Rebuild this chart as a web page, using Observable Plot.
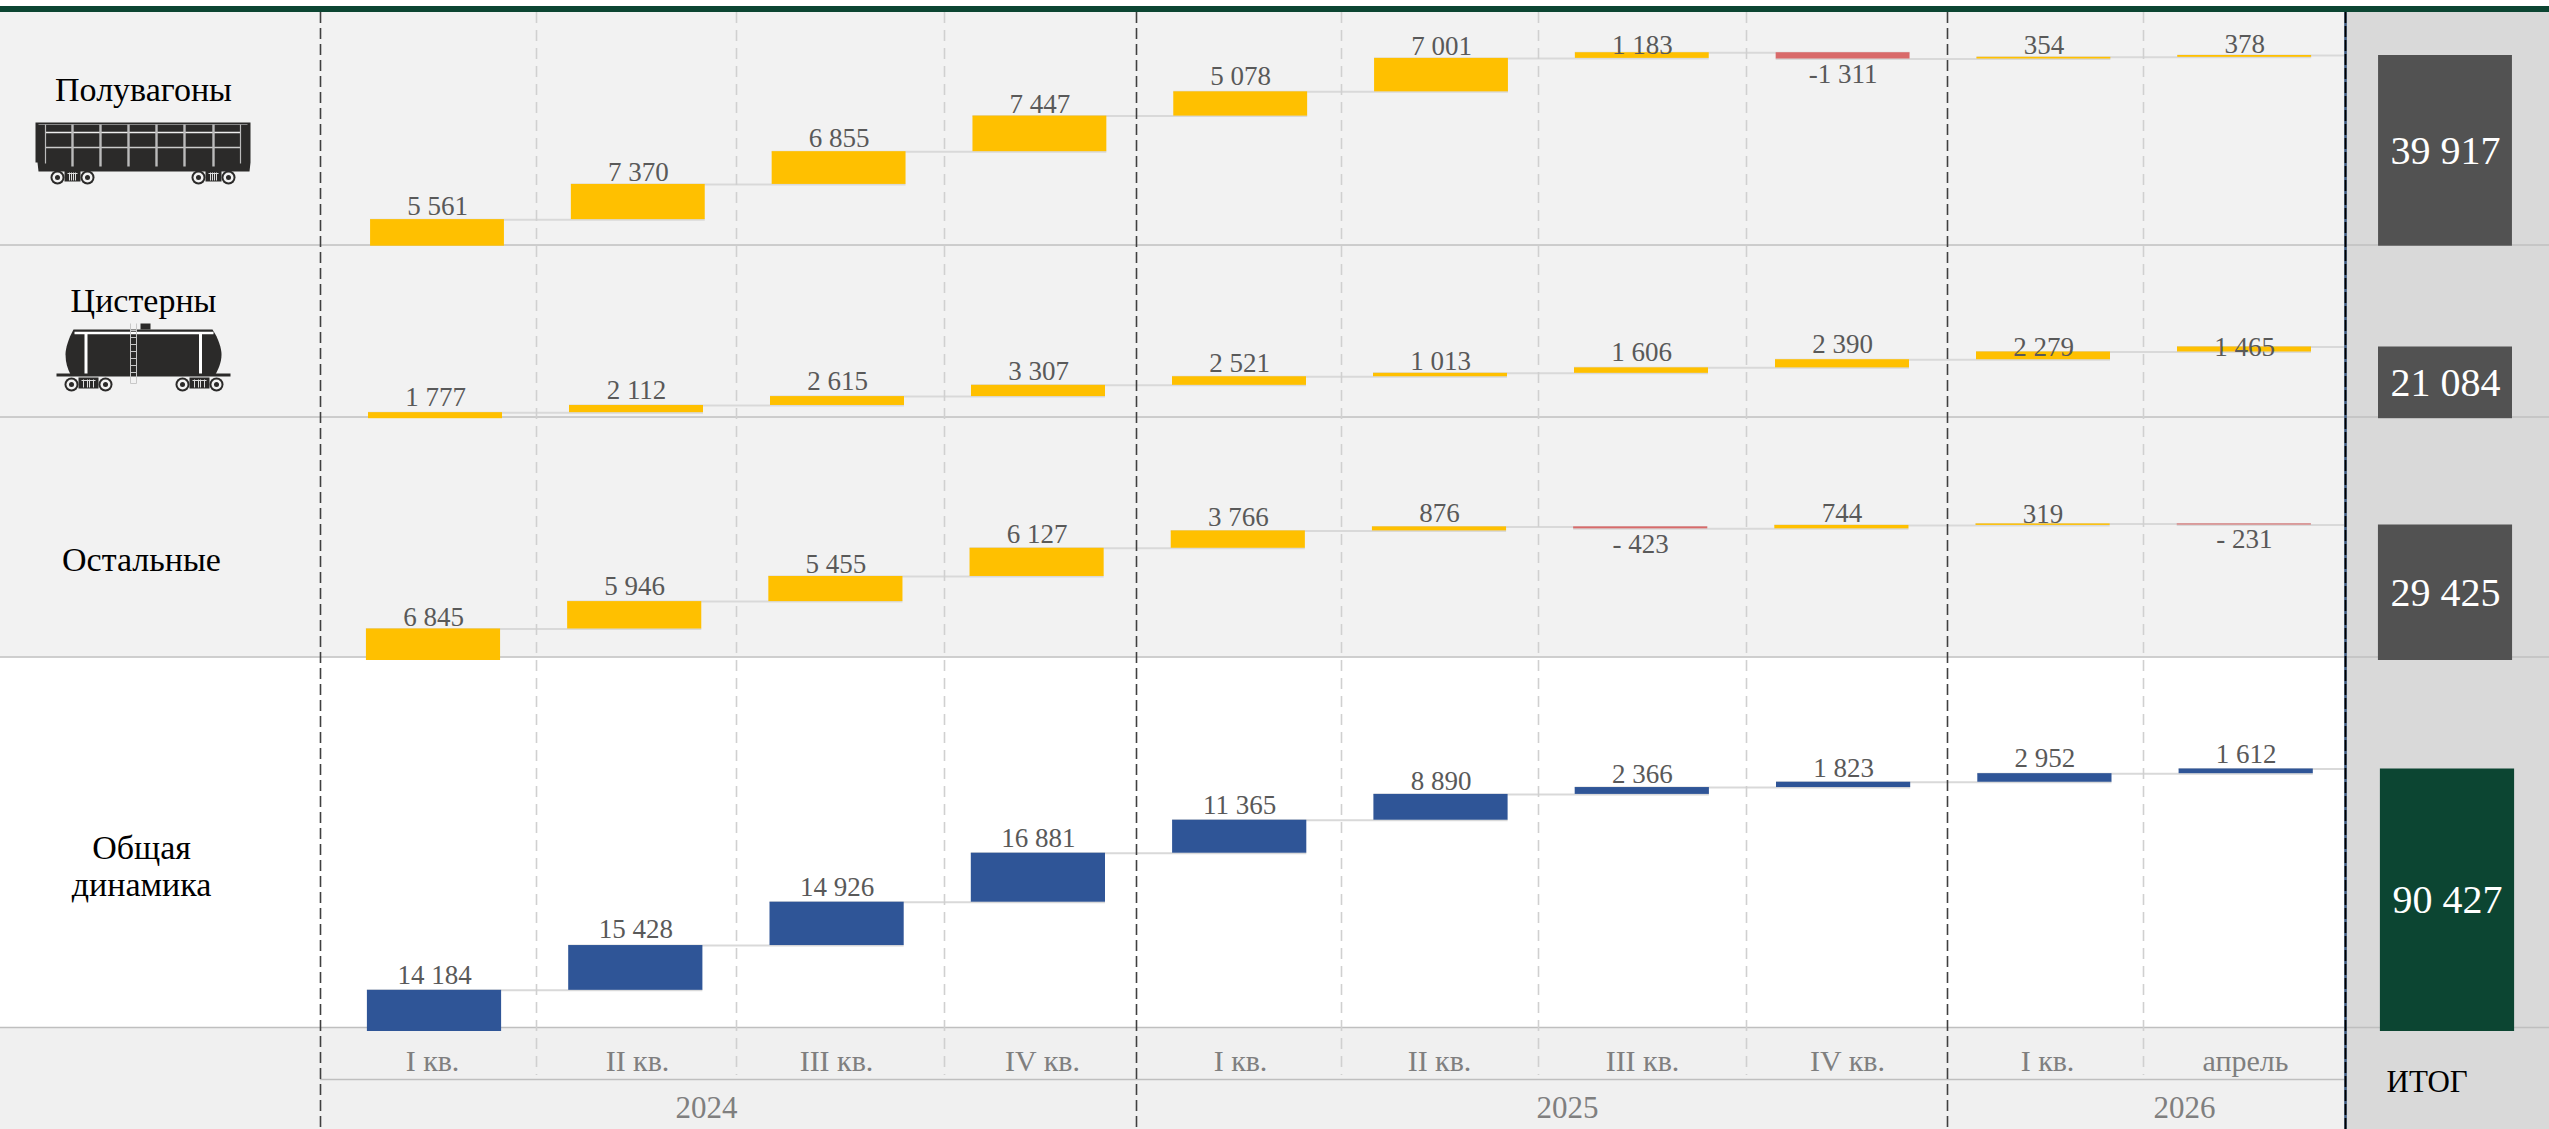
<!DOCTYPE html>
<html><head><meta charset="utf-8">
<script src="https://cdn.jsdelivr.net/npm/d3@7"></script>
<script src="https://cdn.jsdelivr.net/npm/@observablehq/plot@0.6"></script>
<style>
html,body{margin:0;padding:0;background:#fff}
#page{position:relative;width:2549px;height:1129px;overflow:hidden}
#page svg{position:absolute;overflow:visible;background:transparent;max-width:none}
</style></head><body><div id="page"></div>
<script>
// ---------- data ----------
const periods = ["2024-I","2024-II","2024-III","2024-IV","2025-I","2025-II","2025-III","2025-IV","2026-I","2026-IV"];
const periodLabels = ["I кв.","II кв.","III кв.","IV кв.","I кв.","II кв.","III кв.","IV кв.","I кв.","апрель"];
const years = ["2024","2025","2026"];
const gondola = [5561,7370,6855,7447,5078,7001,1183,-1311,354,378];
const tank    = [1777,2112,2615,3307,2521,1013,1606,2390,2279,1465];
const other   = [6845,5946,5455,6127,3766,876,-423,744,319,-231];
const overall = [14184,15428,14926,16881,11365,8890,2366,1823,2952,1612];
const totals  = [39917,21084,29425,90427];
const totalLabel = "ИТОГ";

// ---------- layout (page pixels) ----------
const W = 2549, H = 1129;
const rowTops = [12,244.5,416.5,656.5,1027];
const baseY = [245.7,417.7,659.5,1030.5];
const topY  = [55,346,524,768];
const firstCenter = [437,435,433,434];
const totalCenter = [2445,2445,2445,2447];
const labelDy = [
  [1.5,3,1.5,3,0,3,8,0,3,4],
  [0,0,0,1.5,1.5,3,0,0,10,15],
  [3,0,3,1.5,1.5,1.5,-5,3,5,-6.5],
  [0,-1.5,0,0,0,1.5,1.5,1.5,0,0]];
const colors = {pos:"#ffc000",neg:"#d96a6a",blue:"#2f5597",grey:"#525252",green:"#0c4532"};
const heavy = [320,1136,1947];
const light = [536,736,944,1341,1538,1746,2143];
const periodCenters = [432,637,836,1042,1240,1439,1642,1847,2047,2245];
const yearCenters = [706,1567,2184];
const font = "Liberation Serif, Cambria, serif";

const fmt = v => {
  const s = d3.format(",")(Math.abs(v)).replace(/,/g," ");
  return v < 0 ? (Math.abs(v) >= 1000 ? "-" : "- ") + s : s;
};

const page = document.getElementById("page");
function place(svg, top){ svg.style.left = "0px"; svg.style.top = top + "px"; page.appendChild(svg); }

function svgUri(s){ return "data:image/svg+xml;charset=utf-8," + encodeURIComponent(s); }
const ink = "#2b2a29";
function bogie(a,b,y){
  const w = cx => `<circle cx="${cx}" cy="${y}" r="7" fill="${ink}"/><circle cx="${cx}" cy="${y}" r="5" fill="#f2f2f2"/><circle cx="${cx}" cy="${y}" r="2.5" fill="${ink}"/>`;
  return w(a)+w(b)+`<rect x="${a+7}" y="${y-7}" width="${b-a-14}" height="11" fill="${ink}"/><path d="M${a+10} ${y-4}h${b-a-20}M${a+12} ${y-5}v8M${a+16} ${y-5}v8M${b-12} ${y-5}v8M${b-16} ${y-5}v8" stroke="#ddd" stroke-width="1"/>`;
}
const ribs = [25,52,80,108,136,164,193,220];
const gondolaIcon = svgUri(`<svg xmlns="http://www.w3.org/2000/svg" width="240" height="80" viewBox="0 0 240 80">
<path d="M15 13H230V53L229 62H18L17 53H15Z" fill="${ink}"/>
${bogie(37,67,68)}${bogie(178,208,68)}
<path d="M18 15H227" stroke="#888" stroke-width="1"/>
<path d="M25 23H220" stroke="#eee" stroke-width="1.5"/><path d="M25 38H220" stroke="#ccc" stroke-width="1.3"/>
${ribs.map((x,i)=>`<path d="M${x} 15V${i==0||i==7?54:57}" stroke="#bbb" stroke-width="${i==0||i==7?1.2:2.4}"/>`).join("")}
</svg>`);
const tankIcon = svgUri(`<svg xmlns="http://www.w3.org/2000/svg" width="240" height="140" viewBox="0 0 240 140">
<path d="M53 59H192C198 68 201 78 201 84C201 92 198 98 195 104H50C47 98 45 92 45 84C45 78 48 68 53 59Z" fill="${ink}"/>
<rect x="36" y="103" width="174" height="3" fill="${ink}"/>
<rect x="120" y="53" width="10" height="6" fill="${ink}"/>
<path d="M54 62.5H193" stroke="#fff" stroke-width="2.6"/>
<path d="M65.5 62V103M180 62V103" stroke="#fff" stroke-width="3"/>
<path d="M110 53V113H116V53M110 60H116M110 67H116M110 74H116M110 81H116M110 88H116M110 95H116M110 102H116" stroke="#c8c8c8" fill="none" stroke-width="1"/>
${bogie(51,85,114)}${bogie(162,196,114)}
</svg>`);

// background: row bands, total column, horizontal rules, left-hand and footer text
const bandRows = rowTops.slice(0,-1).map((t,i)=>({y1:t,y2:rowTops[i+1],fill:i==3?"#ffffff":"#f2f2f2"}));
bandRows.push({y1:1027,y2:H,fill:"#f0f0f0"});
const frame = Plot.plot({
  width:W,height:H,margin:0,
  x:{domain:[0,W],range:[0,W],axis:null},y:{domain:[0,H],range:[0,H],axis:null},
  marks:[
    Plot.rect(bandRows,{x1:0,x2:W,y1:"y1",y2:"y2",fill:"fill"}),
    Plot.rect([0],{x1:2345,x2:W,y1:12,y2:H,fill:"#d9d9d9"}),
    Plot.rect([0],{x1:0,x2:W,y1:6,y2:12,fill:"#0c4532"}),
    Plot.ruleY([244.5,416.5,656.5,1027],{x1:0,x2:W,stroke:"#bfbfbf",strokeWidth:1.5}),
    Plot.ruleY([1079],{x1:320,x2:2345,stroke:"#bfbfbf",strokeWidth:1.5}),
    Plot.text(["Полувагоны"],{x:143,y:90,text:d=>d,fontSize:34,fontFamily:font,fill:"#000"}),
    Plot.text(["Цистерны"],{x:143,y:301,text:d=>d,fontSize:34,fontFamily:font,fill:"#000"}),
    Plot.text(["Остальные"],{x:141,y:560,text:d=>d,fontSize:34,fontFamily:font,fill:"#000"}),
    Plot.text(["Общая","динамика"],{x:141,y:(d,i)=>848+i*37,text:d=>d,fontSize:34,fontFamily:font,fill:"#000"}),
    Plot.text(periodLabels,{x:(d,i)=>periodCenters[i],y:1061,text:d=>d,fontSize:30,fontFamily:font,fill:"#7f7f7f"}),
    Plot.text(years,{x:(d,i)=>yearCenters[i],y:1108,text:d=>d,fontSize:31,fontFamily:font,fill:"#7f7f7f"}),
    Plot.text([totalLabel],{x:2386,y:1082,text:d=>d,textAnchor:"start",fontSize:31,fontFamily:font,fill:"#000"}),
    Plot.image([gondolaIcon],{x:140,y:149,width:240,height:80,src:d=>d}),
    Plot.image([tankIcon],{x:140,y:340,width:240,height:140,src:d=>d})
  ]
});
place(frame,0);

// one waterfall panel per row, each with its own value scale
function panel(values,total,r,barFill){
  const top = rowTops[r], h = rowTops[r+1]-top;
  const domain = [...periods,"total"];
  const step = (totalCenter[r]-firstCenter[r])/10;
  const cum = Array.from(d3.cumsum(values));
  const k = (baseY[r]-topY[r])/total; // pixels per unit, turns a label nudge into value units
  const rows = values.map((v,i)=>({period:periods[i],next:domain[i+1],v,start:i?cum[i-1]:0,end:cum[i],nudge:labelDy[r][i]/k}));
  return Plot.plot({
    width:W,height:h,margin:0,
    x:{type:"band",domain,range:[firstCenter[r]-step/2,totalCenter[r]+step/2],paddingInner:1/3,paddingOuter:1/6,round:false,axis:null},
    y:{type:"linear",domain:[0,total],range:[baseY[r]-top,topY[r]-top],axis:null},
    marks:[
      Plot.ruleY(rows,{x1:"period",x2:"next",y:"end",stroke:"#d9d9d9",strokeWidth:2}),
      Plot.barY(rows,{x:"period",y1:"start",y2:"end",fill:d=>d.v<0?colors.neg:barFill}),
      Plot.barY([total],{x:()=>"total",y1:0,y2:d=>d,fill:r==3?colors.green:colors.grey}),
      Plot.text(rows.filter(d=>d.v>=0),{x:"period",y:d=>d.end-d.nudge,text:d=>fmt(d.v),dy:-15,fontSize:27,fontFamily:font,fill:"#595959"}),
      Plot.text(rows.filter(d=>d.v<0),{x:"period",y:d=>d.start-d.nudge,text:d=>fmt(d.v),dy:22,fontSize:27,fontFamily:font,fill:"#595959"}),
      Plot.text([total],{x:()=>"total",y:d=>d/2,text:d=>fmt(d),fontSize:40,fontFamily:font,fill:"#fff"})
    ]
  });
}
[[gondola,colors.pos],[tank,colors.pos],[other,colors.pos],[overall,colors.blue]].forEach(([vals,c],r)=>{
  place(panel(vals,totals[r],r,c),rowTops[r]);
});

// column separators on top
const grid = Plot.plot({
  width:W,height:H,margin:0,
  x:{domain:[0,W],range:[0,W],axis:null},y:{domain:[0,H],range:[0,H],axis:null},
  marks:[
    Plot.ruleX(light,{y1:12,y2:1075,stroke:"#d0d0d0",strokeWidth:1.6,strokeDasharray:"11,7"}),
    Plot.ruleX(heavy,{y1:12,y2:H,stroke:"#404040",strokeWidth:1.6,strokeDasharray:"11,5"}),
    Plot.ruleX([2345],{y1:12,y2:H,stroke:"#3d5a80",strokeWidth:2.6}),
    Plot.ruleX([2345],{y1:12,y2:H,stroke:"#000",strokeWidth:1.8,strokeDasharray:"11,3"})
  ]
});
place(grid,0);
</script></body></html>
